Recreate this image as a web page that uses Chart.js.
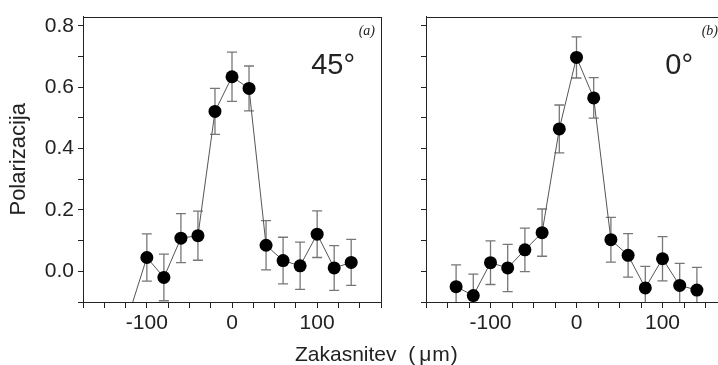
<!DOCTYPE html>
<html>
<head>
<meta charset="utf-8">
<script src="https://cdn.jsdelivr.net/npm/chart.js@4.4.0/dist/chart.umd.min.js"></script>
<style>
  html, body { margin: 0; padding: 0; width: 718px; height: 365px; overflow: hidden; background: #fff; }
  #left { position: absolute; left: 0; top: 0; }
  #right { position: absolute; left: 400px; top: 0; }
  #xtitle { position: absolute; left: 295px; top: 344px; font: 21px "Liberation Sans", Arial, sans-serif;
            color: #222; white-space: pre; line-height: 20px; }
  #xtitle span { margin-left: 4px; letter-spacing: 1px; }
</style>
</head>
<body>
<canvas id="left" width="400" height="365"></canvas>
<canvas id="right" width="340" height="365"></canvas>
<div id="xtitle">Zakasnitev  (<span>μm</span>)</div>
<script>
// panel (a), 45 degrees
const delayA = [-120, -100, -80, -60, -40, -20, 0, 20, 40, 60, 80, 100, 120, 140];
const polA = [-0.13, 0.045, -0.02, 0.108, 0.116, 0.521, 0.634, 0.596, 0.085, 0.035, 0.018, 0.121, 0.011, 0.029];
const errA = [null, 0.077, 0.076, 0.08, 0.08, 0.075, 0.08, 0.073, 0.08, 0.076, 0.077, 0.076, 0.073, 0.075];

// panel (b), 0 degrees
const delayB = [-140, -120, -100, -80, -60, -40, -20, 0, 20, 40, 60, 80, 100, 120, 140];
const polB = [-0.05, -0.079, 0.028, 0.011, 0.07, 0.126, 0.464, 0.697, 0.565, 0.103, 0.052, -0.054, 0.041, -0.046, -0.061];
const errB = [0.071, 0.07, 0.071, 0.077, 0.071, 0.077, 0.078, 0.067, 0.066, 0.073, 0.071, 0.07, 0.072, 0.072, 0.074];

const xTickLabels = [-100, 0, 100];
const yTickLabels = [0, 0.2, 0.4, 0.6, 0.8];

const ink = '#222';
const sans = '"Liberation Sans", Arial, sans-serif';

// error bars, drawn under the markers
const errorBars = {
  id: 'errorBars',
  beforeDatasetsDraw(chart) {
    const { ctx, chartArea: a, scales } = chart;
    ctx.save();
    ctx.beginPath();
    ctx.rect(a.left, a.top, a.right - a.left, a.bottom - a.top);
    ctx.clip();
    ctx.strokeStyle = '#777';
    ctx.lineWidth = 1.3;
    chart.data.datasets.forEach(ds => {
      ds.data.forEach((p, i) => {
        const e = ds.errors[i];
        if (e == null) return;
        const x = scales.x.getPixelForValue(p.x);
        const y1 = scales.y.getPixelForValue(p.y + e);
        const y2 = scales.y.getPixelForValue(p.y - e);
        ctx.beginPath();
        ctx.moveTo(x, y1); ctx.lineTo(x, y2);
        ctx.moveTo(x - 5, y1); ctx.lineTo(x + 5, y1);
        ctx.moveTo(x - 5, y2); ctx.lineTo(x + 5, y2);
        ctx.stroke();
      });
    });
    ctx.restore();
  }
};

// frame and panel captions
const panelText = {
  id: 'panelText',
  afterDraw(chart, args, opts) {
    const { ctx, chartArea: a } = chart;
    ctx.save();
    ctx.strokeStyle = ink;
    ctx.lineWidth = 1;
    ctx.strokeRect(Math.round(a.left) + 0.5, Math.round(a.top) + 0.5,
                   Math.round(a.right - a.left), Math.round(a.bottom - a.top));
    ctx.fillStyle = ink;
    ctx.textAlign = 'right';
    ctx.font = 'italic 14px "Liberation Serif", serif';
    ctx.fillText(opts.tag, a.right - opts.tagRight, a.top + 18);
    ctx.font = '29px ' + sans;
    ctx.fillText(opts.angle, a.right - opts.angleRight, a.top + 57);
    ctx.restore();
  }
};

function drawPanel(id, xs, ys, errs, p) {
  const ctx = document.getElementById(id).getContext('2d');
  return new Chart(ctx, {
    type: 'line',
    data: {
      datasets: [{
        data: xs.map((x, i) => ({ x: x, y: ys[i] })),
        errors: errs,
        borderColor: '#555',
        borderWidth: 1,
        pointRadius: 6.5,
        pointHoverRadius: 6.5,
        pointBackgroundColor: '#000',
        pointBorderColor: '#000',
        pointBorderWidth: 0,
        tension: 0,
        clip: 0
      }]
    },
    options: {
      responsive: false,
      animation: false,
      events: [],
      layout: { padding: { left: 0, top: 15, right: p.padRight, bottom: 0 } },
      plugins: {
        legend: { display: false },
        tooltip: { enabled: false },
        panelText: { tag: p.tag, angle: p.angle, tagRight: p.tagRight, angleRight: p.angleRight }
      },
      scales: {
        x: {
          type: 'linear',
          min: -175, max: 175,
          afterFit: s => { s.height = 63; },
          border: { display: true, color: ink, width: 1 },
          grid: { drawOnChartArea: false, drawTicks: true, tickLength: 6, color: ink },
          ticks: {
            stepSize: 25, includeBounds: false, autoSkip: false, maxRotation: 0, padding: 3,
            color: ink, font: { family: sans, size: 21 },
            callback: v => xTickLabels.includes(v) ? String(v) : ''
          }
        },
        y: {
          min: -0.1, max: 0.83,
          afterFit: s => { s.width = p.yWidth; },
          border: { display: true, color: ink, width: 1 },
          grid: { drawOnChartArea: false, drawTicks: true, tickLength: 5, color: ink },
          title: {
            display: p.showY, text: 'Polarizacija', color: ink,
            font: { family: sans, size: 22 }, padding: { top: 6, bottom: 0 }
          },
          ticks: {
            stepSize: 0.1, includeBounds: false, autoSkip: false, padding: 4,
            color: ink, font: { family: sans, size: 21 },
            callback: v => (p.showY && yTickLabels.some(t => Math.abs(t - v) < 1e-6)) ? v.toFixed(1) : ''
          }
        }
      }
    },
    plugins: [errorBars, panelText]
  });
}

drawPanel('left', delayA, polA, errA,
  { padRight: 19, yWidth: 83, showY: true, tag: '(a)', angle: '45°', tagRight: 6, angleRight: 26 });
drawPanel('right', delayB, polB, errB,
  { padRight: 13, yWidth: 26, showY: false, tag: '(b)', angle: '0°', tagRight: 9, angleRight: 34 });
</script>
</body>
</html>
